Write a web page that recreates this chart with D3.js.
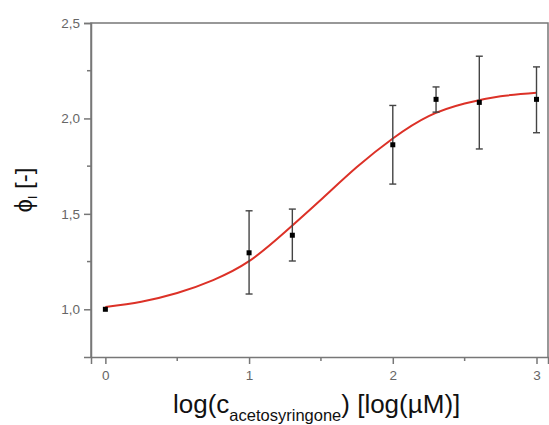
<!DOCTYPE html>
<html>
<head>
<meta charset="utf-8">
<script src="https://cdn.jsdelivr.net/npm/d3@7"></script>
<style>
  body { margin: 0; background: #fff; }
  text { font-family: Arial, "Liberation Sans", sans-serif; }
</style>
</head>
<body>
<div id="chart"></div>
<script>
// measured points (log concentration, phi_I, error)
const xValues = [0, 1, 1.301, 2, 2.301, 2.602, 3];
const yValues = [1.0, 1.296, 1.388, 1.862, 2.100, 2.084, 2.100];
const errUp   = [0, 0.220, 0.137, 0.206, 0.065, 0.242, 0.170];
const errDown = [0, 0.216, 0.135, 0.206, 0.067, 0.244, 0.175];

// fitted curve
const fitX = [0, 0.25, 0.5, 0.75, 1, 1.25, 1.5, 1.75, 2, 2.25, 2.5, 2.75, 3];
const fitY = [1.012, 1.04, 1.085, 1.153, 1.252, 1.405, 1.574, 1.745, 1.895, 2.012, 2.078, 2.116, 2.134];

const xTicks = [0, 1, 2, 3];
const xMinor = [0.5, 1.5, 2.5];
const yTicks = [1.0, 1.5, 2.0, 2.5];
const yMinor = [1.25, 1.75, 2.25];

const width = 549, height = 425;
const plotLeft = 91, plotRight = 548, plotTop = 23, plotBottom = 357;
const axisColor = "#777";

const svg = d3.select("#chart").append("svg")
    .attr("width", width)
    .attr("height", height);

const x = d3.scaleLinear().domain([-0.1, 3.08]).range([plotLeft, plotRight]);
const y = d3.scaleLinear().domain([0.75, 2.5]).range([plotBottom, plotTop]);

const fmt = d => d3.format(".1f")(d).replace(".", ",");

/* frame */
svg.append("path")
    .attr("d", `M${plotLeft},${plotBottom}V${plotTop}H${plotRight}V${plotBottom}`)
    .attr("fill", "none")
    .attr("stroke", axisColor)
    .attr("stroke-width", 1.5);

/* x axis */
const xAxis = svg.append("g")
    .attr("transform", `translate(0,${plotBottom})`)
    .call(d3.axisBottom(x).tickValues(xTicks).tickFormat(d3.format("d")).tickSize(7).tickPadding(6));
xAxis.append("g")
    .selectAll("line")
    .data(xMinor)
    .join("line")
    .attr("x1", d => x(d)).attr("x2", d => x(d))
    .attr("y1", 0).attr("y2", 4);

/* y axis */
const yAxis = svg.append("g")
    .attr("transform", `translate(${plotLeft},0)`)
    .call(d3.axisLeft(y).tickValues(yTicks).tickFormat(fmt).tickSize(7).tickPadding(4));
yAxis.append("g")
    .selectAll("line")
    .data(yMinor)
    .join("line")
    .attr("x1", 0).attr("x2", -4)
    .attr("y1", d => y(d)).attr("y2", d => y(d));

[xAxis, yAxis].forEach(a => {
    a.select(".domain").attr("stroke", axisColor).attr("stroke-width", 1.5);
    a.selectAll("line").attr("stroke", axisColor).attr("stroke-width", 1.5);
    a.selectAll("text")
        .attr("fill", "#666")
        .style("font-size", "13.5px")
        .style("font-family", "Arial, 'Liberation Sans', sans-serif");
});

/* fit curve */
const line = d3.line()
    .x(d => x(d[0]))
    .y(d => y(d[1]))
    .curve(d3.curveNatural);

svg.append("path")
    .datum(fitX.map((d, i) => [d, fitY[i]]))
    .attr("d", line)
    .attr("fill", "none")
    .attr("stroke", "#dc3127")
    .attr("stroke-width", 2);

/* error bars */
const pts = xValues.map((d, i) => ({ x: d, y: yValues[i], up: errUp[i], down: errDown[i] }));
const bars = svg.append("g")
    .attr("stroke", "#444")
    .attr("stroke-width", 1.4)
    .selectAll("g")
    .data(pts.filter(d => d.up > 0))
    .join("g");

bars.append("line")
    .attr("x1", d => x(d.x)).attr("x2", d => x(d.x))
    .attr("y1", d => y(d.y + d.up)).attr("y2", d => y(d.y - d.down));
bars.append("line")
    .attr("x1", d => x(d.x) - 3.5).attr("x2", d => x(d.x) + 3.5)
    .attr("y1", d => y(d.y + d.up)).attr("y2", d => y(d.y + d.up));
bars.append("line")
    .attr("x1", d => x(d.x) - 3.5).attr("x2", d => x(d.x) + 3.5)
    .attr("y1", d => y(d.y - d.down)).attr("y2", d => y(d.y - d.down));

/* points */
svg.append("g")
    .selectAll("rect")
    .data(pts)
    .join("rect")
    .attr("x", d => x(d.x) - 2.5)
    .attr("y", d => y(d.y) - 2.5)
    .attr("width", 5)
    .attr("height", 5)
    .attr("fill", "#000");

/* axis titles */
const xTitle = svg.append("text")
    .attr("x", 173)
    .attr("y", 413)
    .attr("fill", "#111")
    .style("font-size", "26px");
xTitle.append("tspan").text("log(c");
xTitle.append("tspan").attr("dy", 8).style("font-size", "16.5px").text("acetosyringone");
xTitle.append("tspan").attr("dy", -8).text(") [log(µM)]");

const yTitle = svg.append("text")
    .attr("transform", `translate(32,${(plotTop + plotBottom) / 2}) rotate(-90)`)
    .attr("text-anchor", "middle")
    .attr("fill", "#111")
    .style("font-size", "24px");
yTitle.append("tspan").text("ϕ");
yTitle.append("tspan").attr("dy", 5).style("font-size", "12px").text("I");
yTitle.append("tspan").attr("dy", -5).text(" [-]");
</script>
</body>
</html>
